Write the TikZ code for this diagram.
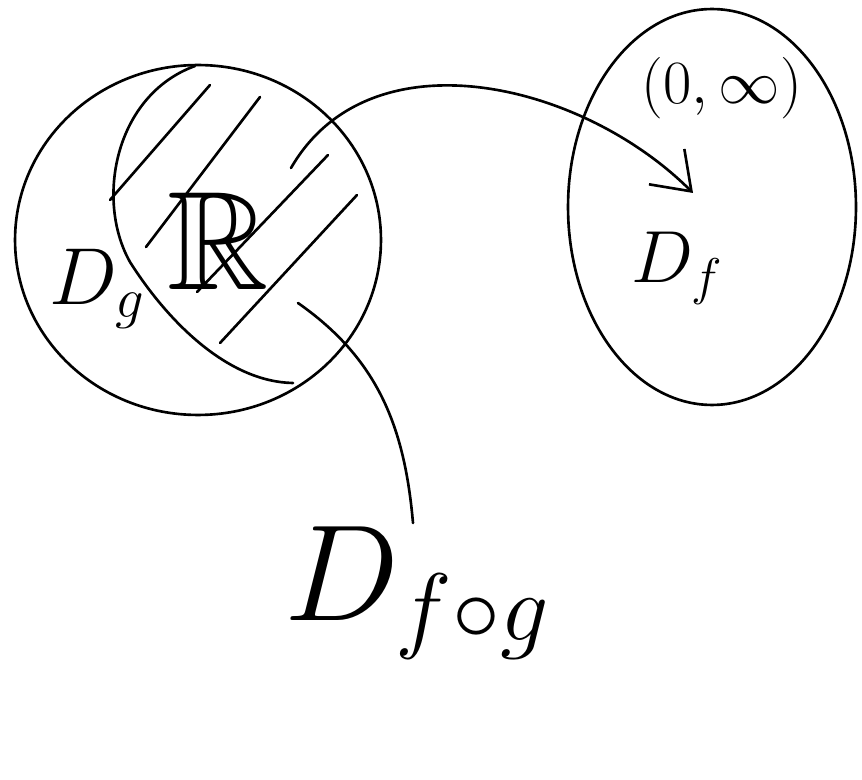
\RequirePackage{fix-cm}
\documentclass[tikz,border=0pt]{standalone}
\usepackage{amsmath, amssymb}
\usepackage{tikz}
\usetikzlibrary{arrows.meta, shapes.geometric}

\begin{document}
\begin{tikzpicture}[
x=0.02cm, y=-0.02cm,
line width=1.5pt, line cap=round, line join=round,
every node/.style={inner sep=0pt},
setbox/.style={draw, ellipse, line width=1.5pt},
hand/.style={font=\fontsize{#1}{#1}\selectfont}
]
\useasboundingbox (0,0) rectangle (862,780);

\node[setbox, minimum width=7.32cm, minimum height=7cm] (dg) at (198,240) {};
\node[setbox, minimum width=5.76cm, minimum height=7.92cm] (df) at (712,207) {};

% the part of D_g sent into D_f
\draw (195,66) .. controls (115,95) and (95,200) .. (130,262)
  .. controls (170,325) and (230,382) .. (293,383);
\foreach \xa/\ya/\xb/\yb in {110/200/210/85, 146/247/260/97, 197/292/328/155, 220/343/357/195}
  \draw (\xa,\ya) -- (\xb,\yb);

\node[hand=46, anchor=base west] (dglabel) at (48,305) {$D_g$};
\node[hand=80, anchor=base west] (reals) at (166,290) {$\mathbb{R}$};
\node[hand=35] (range) at (722,88) {$(0,\infty)$};
\node[hand=42, anchor=base west] (dflabel) at (630,283) {$D_f$};
\node[hand=78, anchor=base west] (dfog) at (283,620) {$D_{f\circ g}$};

\coordinate (from) at (291,168);
\coordinate (tip) at (693,193);
\coordinate (ptr) at (298,303);
\coordinate (lead) at (413,523);

\draw[-{Straight Barb[length=7mm, width=10mm]}] (from) to[out=60, in=135] (tip);
\draw (ptr) to[out=-35, in=95] (lead);

\end{tikzpicture}
\end{document}
